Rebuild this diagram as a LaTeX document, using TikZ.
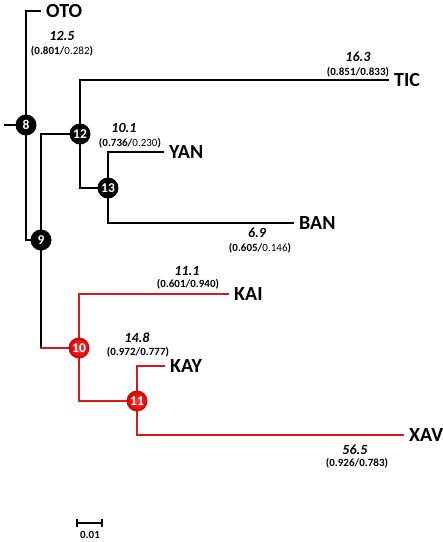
\documentclass[tikz,border=0pt]{standalone}
\usepackage{fontspec}
\setmainfont{Carlito}
\usetikzlibrary{backgrounds}
\definecolor{redline}{RGB}{215,25,25}
\tikzset{
  branch/.style={line width=1.8pt, line cap=rect},
  redbranch/.style={branch, draw=redline},
  inode/.style={circle, fill=black, minimum size=21pt, inner sep=0pt, text=white, font=\fontsize{13.5}{14}\selectfont\bfseries},
  rnode/.style={circle, inner color={rgb,255:red,245;green,60;blue,60}, outer color={rgb,255:red,215;green,0;blue,0}, minimum size=21pt, inner sep=0pt, text=white, font=\fontsize{13.5}{14}\selectfont\bfseries},
  leaf/.style={anchor=west, inner xsep=6pt, inner ysep=0pt, font=\fontsize{20}{22}\selectfont\bfseries},
  blen/.style={inner sep=0pt, font=\fontsize{14}{15}\selectfont\bfseries\itshape},
  supp/.style={inner sep=0pt, font=\fontsize{11}{12}\selectfont},
}
\begin{document}
\begin{tikzpicture}[x=1pt,y=-1pt]
\useasboundingbox (0,0) rectangle (443,542);
% internal nodes
\node[inode] (n8) at (26,125) {8};
\node[inode] (n9) at (41,240) {9};
\node[inode] (n12) at (80,134) {12};
\node[inode] (n13) at (108,188) {13};
\node[rnode] (n10) at (79,348) {10};
\node[rnode] (n11) at (137,401) {11};
% leaves
\node[leaf] (oto) at (40,11) {OTO};
\node[leaf] (tic) at (388,80) {TIC};
\node[leaf] (yan) at (163,152) {YAN};
\node[leaf] (ban) at (293,223) {BAN};
\node[leaf] (kai) at (228,294) {KAI};
\node[leaf] (kay) at (164,366) {KAY};
\node[leaf] (xav) at (403,435) {XAV};
\coordinate (root) at (5,125);
\coordinate (c10) at (41,348);
% branches
\begin{scope}[on background layer]
\draw[branch] (root) -- (n8.center);
\draw[branch] (n8.center) |- (oto.west);
\draw[branch] (n8.center) |- (n9.center);
\draw[branch] (n9.center) |- (n12.center);
\draw[branch] (n12.center) |- (tic.west);
\draw[branch] (n12.center) |- (n13.center);
\draw[branch] (n13.center) |- (yan.west);
\draw[branch] (n13.center) |- (ban.west);
\draw[branch] (n9.center) -- (c10);
\draw[redbranch] (c10) -- (n10.center);
\draw[redbranch] (n10.center) |- (kai.west);
\draw[redbranch] (n10.center) |- (n11.center);
\draw[redbranch] (n11.center) |- (kay.west);
\draw[redbranch] (n11.center) |- (xav.west);
\end{scope}
% branch labels
\node[blen] (l1) at (62,36) {12.5};
\node[supp] (s1) at (62,51) {\textbf{(0.801/}0.282\textbf{)}};
\node[blen] (l2) at (358,57) {16.3};
\node[supp] (s2) at (358,72) {\textbf{(0.851/0.833)}};
\node[blen] (l3) at (124,128) {10.1};
\node[supp] (s3) at (130,143) {\textbf{(0.736/}0.230\textbf{)}};
\node[blen] (l4) at (257,233) {6.9};
\node[supp] (s4) at (260,248) {\textbf{(0.605/}0.146\textbf{)}};
\node[blen] (l5) at (187,271) {11.1};
\node[supp] (s5) at (188,284) {\textbf{(0.601/0.940)}};
\node[blen] (l6) at (137,338) {14.8};
\node[supp] (s6) at (138,352) {\textbf{(0.972/0.777)}};
\node[blen] (l7) at (355,450) {56.5};
\node[supp] (s7) at (357,463) {\textbf{(0.926/0.783)}};
% scale bar
\coordinate (sb1) at (77,523);
\coordinate (sb2) at (102,523);
\draw[line width=1.6pt] (sb1) -- (sb2);
\draw[line width=1.4pt] ([yshift=-4]sb1) -- ([yshift=4]sb1);
\draw[line width=1.4pt] ([yshift=-4]sb2) -- ([yshift=4]sb2);
\node[inner sep=0pt, font=\fontsize{11}{12}\selectfont\bfseries] (sbl) at (90,535) {0.01};
\end{tikzpicture}
\end{document}
